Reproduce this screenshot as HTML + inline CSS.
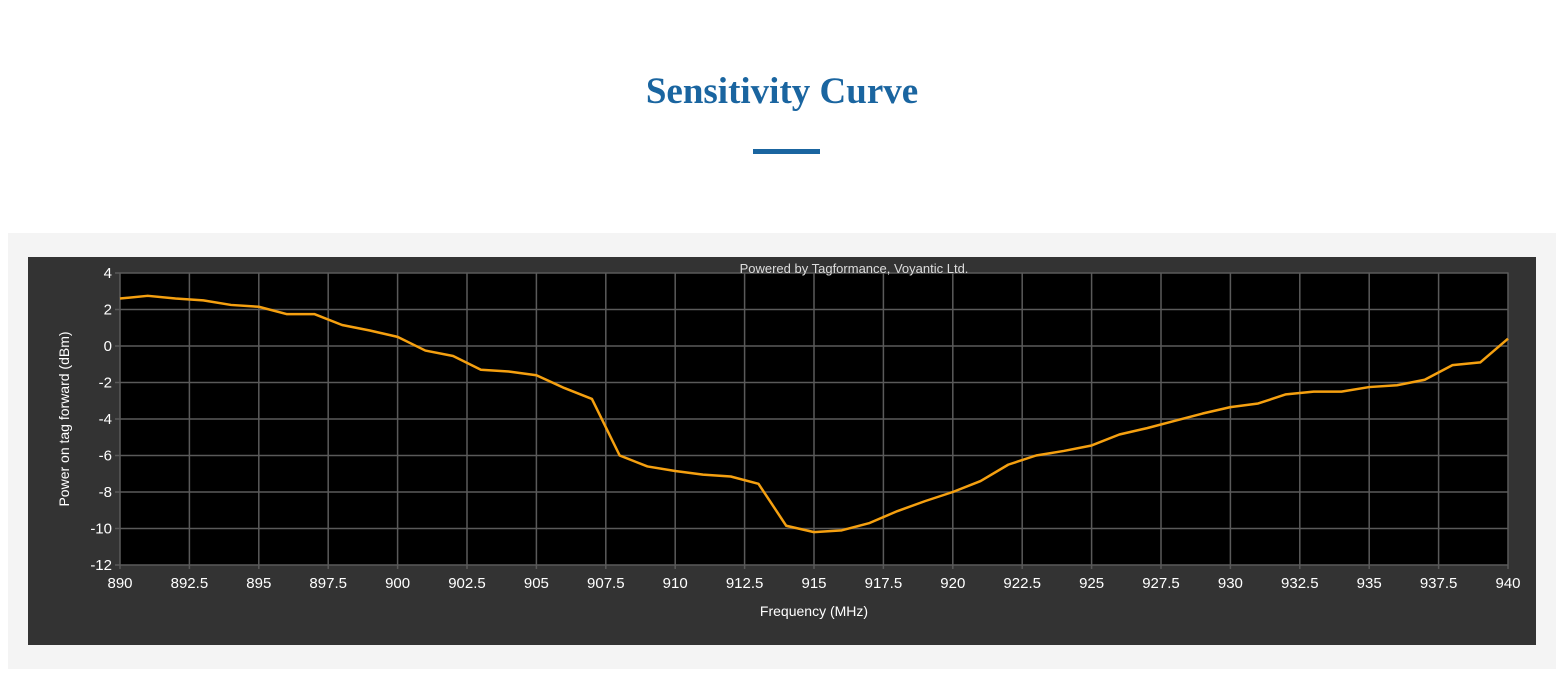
<!DOCTYPE html>
<html><head><meta charset="utf-8"><style>
body{margin:0;width:1564px;height:697px;background:#fff;overflow:hidden;font-family:"Liberation Sans",sans-serif}
#title{position:absolute;top:70px;left:0;width:1564px;text-align:center;font-family:"Liberation Serif",serif;font-weight:bold;font-size:37px;color:#1a65a0}
#bar{position:absolute;left:753px;top:149px;width:67px;height:5px;background:#1a65a0}
#panel{position:absolute;left:8px;top:233px;width:1548px;height:436px;background:#f4f4f4}
svg{position:absolute;left:28px;top:257px}
</style></head><body>
<div id="title">Sensitivity Curve</div>
<div id="bar"></div>
<div id="panel"></div>
<svg id="chart" width="1508" height="388"></svg>
<script>
const freqs=[];for(let f=890;f<=940;f++)freqs.push(f);
const power=[2.6,2.75,2.6,2.5,2.25,2.15,1.75,1.75,1.15,0.85,0.5,-0.25,-0.55,-1.3,-1.4,-1.6,-2.3,-2.9,-6.0,-6.6,-6.85,-7.05,-7.15,-7.55,-9.85,-10.2,-10.1,-9.7,-9.05,-8.5,-8.0,-7.4,-6.5,-6.0,-5.75,-5.45,-4.85,-4.5,-4.1,-3.7,-3.35,-3.15,-2.65,-2.5,-2.5,-2.25,-2.15,-1.85,-1.05,-0.9,0.4];
const xTicks=[890,892.5,895,897.5,900,902.5,905,907.5,910,912.5,915,917.5,920,922.5,925,927.5,930,932.5,935,937.5,940];
const yTicks=[4,2,0,-2,-4,-6,-8,-10,-12];
const NS="http://www.w3.org/2000/svg",svg=document.getElementById('chart');
const L=92,R=1480,T=16,B=308;
const xs=v=>L+(v-890)/50*(R-L), ys=v=>T+(4-v)/16*(B-T);
function mk(t,a,p){const e=document.createElementNS(NS,t);for(const k in a)e.setAttribute(k,a[k]);(p||svg).appendChild(e);return e;}
const bg=mk('rect',{x:0,y:0,width:1508,height:388,fill:'#333'});


const pa=mk('rect',{x:L,y:T,width:R-L,height:B-T,fill:'#000',stroke:'#777'});


xTicks.forEach(v=>{const x=xs(v);
 const g=mk('line',{x1:x,x2:x,y1:T,y2:B+4,stroke:'#5a5a5a','stroke-width':1.5});
 
 
 const t=mk('text',{x:x,y:B+23,fill:'#fff','font-size':15,'text-anchor':'middle'});t.textContent=v;
 
 });
yTicks.forEach(v=>{const y=ys(v);
 const g=mk('line',{x1:L-5,x2:R,y1:y,y2:y,stroke:'#5a5a5a','stroke-width':1.5});
 
 
 const t=mk('text',{x:L-8,y:y+5,fill:'#fff','font-size':15,'text-anchor':'end'});t.textContent=v;
 
 });
const line=mk('polyline',{points:freqs.map((f,i)=>xs(f)+','+ys(power[i])).join(' '),fill:'none',stroke:'#f5a010','stroke-width':2.5,'stroke-linejoin':'round'});


const xt=mk('text',{x:(L+R)/2,y:B+51,fill:'#fff','font-size':14,'text-anchor':'middle'});xt.textContent='Frequency (MHz)';


const yt=mk('text',{x:0,y:0,fill:'#fff','font-size':14,'text-anchor':'middle',transform:'translate(41,'+((T+B)/2)+') rotate(-90)'});yt.textContent='Power on tag forward (dBm)';


const cr=mk('text',{x:(L+R)/2+40,y:16,fill:'#ddd','font-size':13,'text-anchor':'middle'});cr.textContent='Powered by Tagformance, Voyantic Ltd.';


</script>
</body></html>
